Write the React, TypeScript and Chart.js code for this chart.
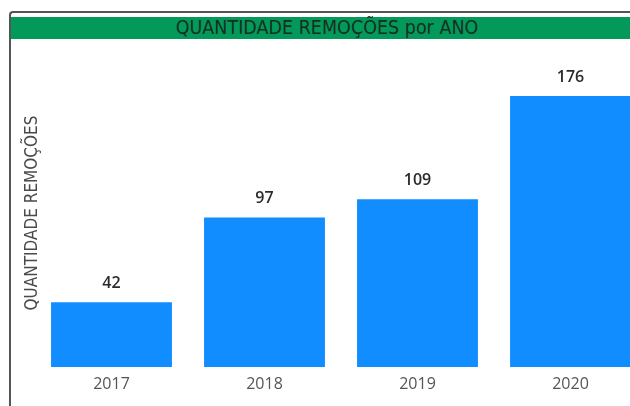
import React, { useEffect, useRef } from "react";
import { Chart, registerables } from "chart.js";

Chart.register(...registerables);

const years = ["2017", "2018", "2019", "2020"];
const removals = [42, 97, 109, 176];
const chartTitle = "QUANTIDADE REMOÇÕES por ANO";
const yAxisTitle = "QUANTIDADE REMOÇÕES";

const condensed = "'DejaVu Sans Condensed', 'Liberation Sans Narrow', 'Roboto Condensed', 'DejaVu Sans', sans-serif";
const sans = "'Open Sans', 'Noto Sans', 'DejaVu Sans', sans-serif";

const dataLabels = {
  id: "dataLabels",
  afterDatasetsDraw(chart: any) {
    const { ctx } = chart;
    const meta = chart.getDatasetMeta(0);
    ctx.save();
    ctx.font = `600 16px ${sans}`;
    ctx.fillStyle = "#2b2b2b";
    ctx.textAlign = "center";
    ctx.textBaseline = "middle";
    meta.data.forEach((bar: any, i: number) => {
      ctx.fillText(String(chart.data.datasets[0].data[i]), bar.x, bar.y - 19);
    });
    ctx.restore();
  },
};

export default function App() {
  const ref = useRef<HTMLCanvasElement>(null);
  useEffect(() => {
    if (!ref.current) return;
    const chart = new Chart(ref.current, {
      type: "bar",
      data: {
        labels: years,
        datasets: [
          {
            data: removals,
            backgroundColor: "#118DFF",
            borderWidth: 0,
            categoryPercentage: 1,
            barPercentage: 0.79,
          },
        ],
      },
      options: {
        animation: false,
        responsive: false,
        maintainAspectRatio: false,
        layout: { padding: { left: 17, right: 33, top: 59, bottom: 0 } },
        plugins: { legend: { display: false }, tooltip: { enabled: false }, title: { display: false } },
        scales: {
          x: {
            grid: { display: false, drawTicks: false },
            border: { display: false },
            ticks: { color: "#555555", font: { family: sans, size: 16 }, padding: 8 },
            afterFit(scale: any) {
              scale.height = 39;
            },
          },
          y: {
            min: 0,
            max: 200,
            grid: { display: false, drawTicks: false },
            border: { display: false },
            ticks: { display: false },
            title: {
              display: true,
              text: yAxisTitle,
              color: "#4a4a4a",
              font: { family: condensed, size: 17, weight: "normal" },
              padding: { top: 5, bottom: 0 },
            },
            afterFit(scale: any) {
              scale.width = 18;
            },
          },
        },
      },
      plugins: [dataLabels],
    });
    return () => chart.destroy();
  }, []);

  return (
    <div style={{ position: "fixed", left: 0, top: 0, width: 630, height: 406, overflow: "hidden", background: "#ffffff" }}>
      <div
        style={{
          position: "absolute",
          left: 9,
          top: 11,
          width: 636,
          height: 420,
          borderTop: "2px solid #555555",
          borderLeft: "2px solid #555555",
          borderTopLeftRadius: 4,
          boxSizing: "border-box",
        }}
      />
      <div
        style={{
          position: "absolute",
          left: 11,
          top: 17,
          width: 632,
          height: 22,
          background: "#02995B",
          color: "#15301f",
          fontFamily: condensed,
          fontSize: 19.5,
          lineHeight: "22px",
          textAlign: "center",
          whiteSpace: "nowrap",
        }}
      >
        {chartTitle}
      </div>
      <canvas ref={ref} width={680} height={406} style={{ position: "absolute", left: 0, top: 0, width: 680, height: 406 }} />
    </div>
  );
}
